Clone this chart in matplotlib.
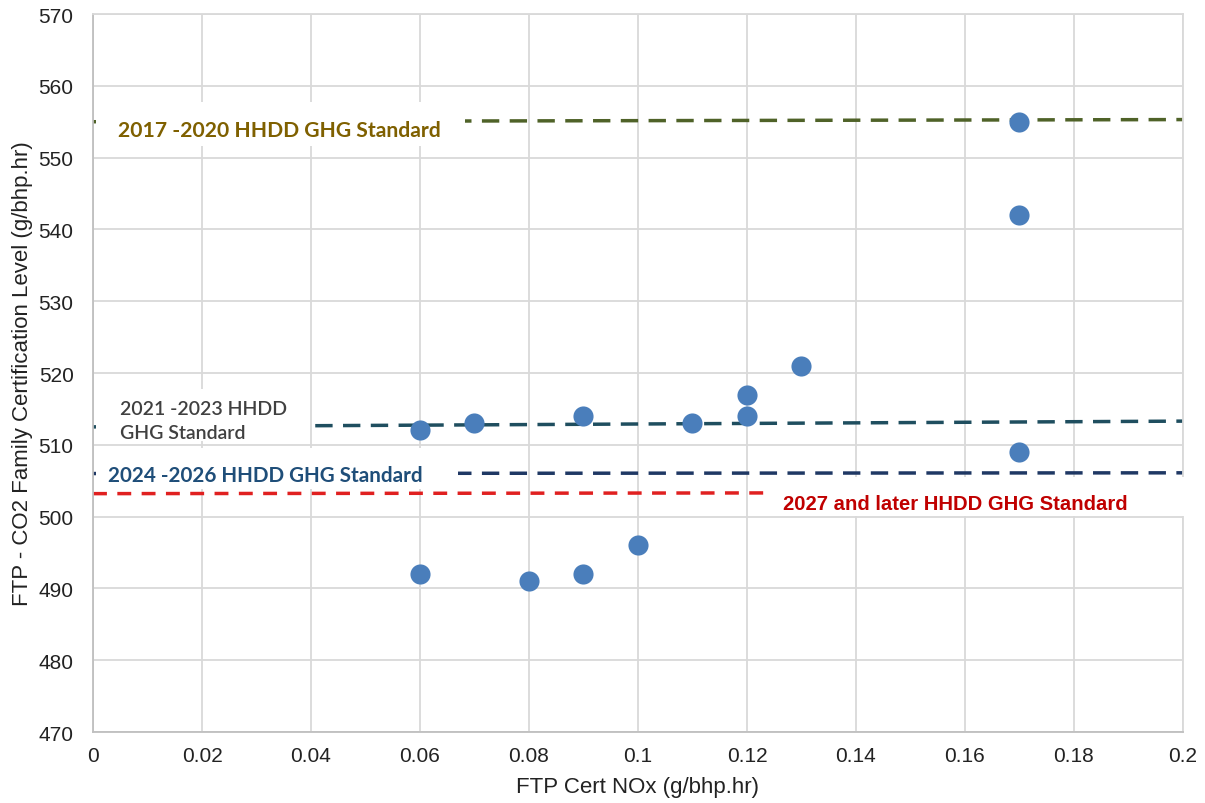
import matplotlib
matplotlib.use("Agg")
import matplotlib.pyplot as plt
from matplotlib.patches import Rectangle

# Data
nox = [0.06, 0.07, 0.09, 0.11, 0.12, 0.12, 0.13, 0.17, 0.17, 0.17, 0.06, 0.08, 0.09, 0.10]
co2 = [512, 513, 514, 513, 517, 514, 521, 555, 542, 509, 492, 491, 492, 496]

std_x = [0.0, 0.2]
std_2017 = [555.0, 555.3]
std_2021 = [512.5, 513.3]
std_2024 = [506.0, 506.1]
std_2027_x = [0.0, 0.124]
std_2027 = [503.2, 503.3]

xticks = [0, 0.02, 0.04, 0.06, 0.08, 0.1, 0.12, 0.14, 0.16, 0.18, 0.2]
xticklabels = ["0", "0.02", "0.04", "0.06", "0.08", "0.1", "0.12", "0.14", "0.16", "0.18", "0.2"]
yticks = list(range(470, 571, 10))

plt.rcParams['font.family'] = ['Liberation Sans', 'DejaVu Sans']

fig = plt.figure(figsize=(12.05, 8.04), dpi=100)
ax = fig.add_axes([0.0772, 0.0883, 0.9045, 0.893])

ax.set_xlim(0, 0.2)
ax.set_ylim(470, 570)
ax.set_xticks(xticks)
ax.set_xticklabels(xticklabels)
ax.set_yticks(yticks)
ax.grid(True, color='#D9D9D9', linewidth=1.3)
ax.set_axisbelow(True)
for s in ax.spines.values():
    s.set_color('#D9D9D9')
    s.set_linewidth(1.3)
ax.spines['left'].set_color('#BFBFBF')
ax.spines['bottom'].set_color('#BFBFBF')
ax.tick_params(axis='both', length=0, labelsize=15, colors='#222222')
ax.tick_params(axis='x', pad=10)
ax.tick_params(axis='y', pad=14)

ax.plot(std_x, std_2017, linestyle=(0, (5, 3)), color='#4F6228', linewidth=2.5, zorder=2)
ax.plot(std_x, std_2021, linestyle=(0, (5, 3)), color='#1F4E5F', linewidth=2.5, zorder=2)
ax.plot(std_x, std_2024, linestyle=(0, (5, 3)), color='#1F3864', linewidth=2.5, zorder=2)
ax.plot(std_2027_x, std_2027, linestyle=(0, (4, 3)), color='#E02020', linewidth=2.5, zorder=2)

ax.scatter(nox, co2, s=210, color='#4A7EBB', zorder=4, linewidths=0)

# white label boxes (x0, y0, x1, y1) in data units
boxes = [(0.0006, 551.6, 0.0683, 557.7),
         (0.0006, 510.5, 0.0398, 517.8),
         (0.0006, 503.8, 0.0670, 509.5),
         (0.1242, 500.1, 0.2015, 505.5)]
for x0, y0, x1, y1 in boxes:
    ax.add_patch(Rectangle((x0, y0), x1 - x0, y1 - y0, facecolor='white',
                           edgecolor='none', zorder=2.7, clip_on=False))

lato = ['Lato', 'DejaVu Sans']
ax.text(0.0046, 553.9, "2017 -2020 HHDD GHG Standard", color='#7F6000', fontsize=15.2,
        fontweight='bold', family=lato, va='center', ha='left', zorder=3)
ax.text(0.005, 513.4, "2021 -2023 HHDD\nGHG Standard", color='#404040', fontsize=14,
        fontweight='semibold', family=lato, va='center', ha='left', zorder=3, linespacing=1.45)
ax.text(0.0028, 505.8, "2024 -2026 HHDD GHG Standard", color='#1F4E79', fontsize=14.9,
        fontweight='bold', family=lato, va='center', ha='left', zorder=3)
ax.text(0.1266, 501.8, "2027 and later HHDD GHG Standard", color='#C00000', fontsize=14.6,
        fontweight='bold', va='center', ha='left', zorder=3)

ax.set_xlabel("FTP Cert NOx (g/bhp.hr)", fontsize=16, color='#222222', labelpad=8)
ax.set_ylabel("FTP - CO2 Family Certification Level (g/bhp.hr)", fontsize=16, color='#222222', labelpad=4)

fig.savefig("out.png", dpi=100)
